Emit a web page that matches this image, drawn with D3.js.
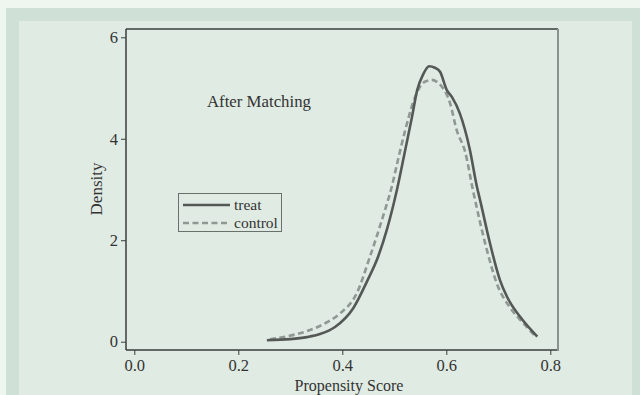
<!DOCTYPE html>
<html><head><meta charset="utf-8">
<script src="https://cdn.jsdelivr.net/npm/d3@7"></script>
<style>html,body{margin:0;padding:0;background:#eff6ef;}svg{display:block;}</style>
</head><body>
<svg id="c" width="640" height="395"></svg>
<script>
const treatX = [0.255,0.300,0.332,0.357,0.386,0.421,0.448,0.469,0.486,0.505,0.521,0.534,0.544,0.555,0.567,0.578,0.588,0.601,0.611,0.626,0.645,0.659,0.665,0.684,0.703,0.717,0.742,0.775];
const treatY = [0.03,0.05,0.09,0.15,0.29,0.66,1.20,1.68,2.22,2.99,3.78,4.43,4.96,5.26,5.43,5.40,5.32,4.96,4.82,4.50,3.80,3.05,2.79,1.94,1.22,0.88,0.49,0.10];
const controlX = [0.261,0.300,0.338,0.370,0.396,0.428,0.453,0.478,0.495,0.507,0.521,0.536,0.549,0.560,0.572,0.582,0.592,0.607,0.620,0.636,0.652,0.678,0.697,0.722,0.745,0.772];
const controlY = [0.05,0.12,0.23,0.38,0.56,0.96,1.67,2.46,3.05,3.58,4.17,4.71,5.02,5.13,5.16,5.12,5.02,4.71,4.17,3.75,2.95,1.81,1.15,0.68,0.40,0.10];
const xTicks = [0.0,0.2,0.4,0.6,0.8];
const yTicks = [0,2,4,6];
const seriesNames = ["treat","control"];
const title = "After Matching";
const xLabel = "Propensity Score";
const yLabel = "Density";

const svg = d3.select("#c");
const serif = "'Liberation Serif','Times New Roman',serif";
svg.append("rect").attr("x",6).attr("y",8).attr("width",634).attr("height",387).attr("fill","#cfe0d6");
svg.append("rect").attr("x",19).attr("y",21).attr("width",613).attr("height",374).attr("fill","#e0ebe3");

const L=126, T=29, R=558, B=350;
const x = d3.scaleLinear().domain([0,0.8]).range([134.3,550.3]);
const y = d3.scaleLinear().domain([0,6]).range([341.7,37.3]);

const xa = svg.append("g").attr("transform",`translate(0,${B})`)
  .call(d3.axisBottom(x).tickValues(xTicks).tickFormat(d3.format(".1f")).tickSize(5).tickSizeOuter(0));
const ya = svg.append("g").attr("transform",`translate(${L},0)`)
  .call(d3.axisLeft(y).tickValues(yTicks).tickFormat(d3.format("d")).tickSize(5).tickSizeOuter(0));
[xa,ya].forEach(g=>{
  g.select(".domain").remove();
  g.selectAll(".tick line").attr("stroke","#3a3f3c").attr("stroke-width",1);
  g.selectAll(".tick text").attr("font-family",serif).attr("font-size",16.5).attr("fill","#333");
});
xa.selectAll(".tick text").attr("y",9);
ya.selectAll(".tick text").attr("x",-8);

svg.append("line").attr("x1",L).attr("x2",R).attr("y1",T).attr("y2",T).attr("stroke","#3a3f3c").attr("stroke-width",1.5);
svg.append("line").attr("x1",L).attr("x2",L).attr("y1",T).attr("y2",B).attr("stroke","#3a3f3c").attr("stroke-width",1.5);
svg.append("line").attr("x1",L).attr("x2",R).attr("y1",B).attr("y2",B).attr("stroke","#3a3f3c").attr("stroke-width",1.5);
svg.append("line").attr("x1",R).attr("x2",R).attr("y1",T).attr("y2",B+1).attr("stroke","#89938e").attr("stroke-width",2);

const line = d3.line().x(d=>x(d[0])).y(d=>y(d[1])).curve(d3.curveMonotoneX);
const cData = controlX.map((v,i)=>[v,controlY[i]]);
const tData = treatX.map((v,i)=>[v,treatY[i]]);
svg.append("path").attr("d",line(cData)).attr("fill","none").attr("stroke","#8f9893").attr("stroke-width",2.6).attr("stroke-dasharray","6,3.5");
svg.append("path").attr("d",line(tData)).attr("fill","none").attr("stroke","#545956").attr("stroke-width",2.6);

svg.append("text").attr("x",207).attr("y",107).attr("font-family",serif).attr("font-size",16.8).attr("fill","#333").text(title);
svg.append("text").attr("x",349).attr("y",390.5).attr("text-anchor","middle").attr("font-family",serif).attr("font-size",16).attr("fill","#333").text(xLabel);
svg.append("text").attr("transform","translate(102,189) rotate(-90)").attr("text-anchor","middle").attr("font-family",serif).attr("font-size",17).attr("fill","#333").text(yLabel);

const lg = svg.append("g");
lg.append("rect").attr("x",178.5).attr("y",193.5).attr("width",103).attr("height",38).attr("fill","none").attr("stroke","#6a706c").attr("stroke-width",1);
const styles = [{c:"#545956",d:null},{c:"#8f9893",d:"6,3.5"}];
seriesNames.forEach((n,i)=>{
  const yy = 205 + i*18;
  lg.append("line").attr("x1",183).attr("x2",230).attr("y1",yy).attr("y2",yy).attr("stroke",styles[i].c).attr("stroke-width",2.6).attr("stroke-dasharray",styles[i].d);
  lg.append("text").attr("x",234).attr("y",yy+5).attr("font-family",serif).attr("font-size",15.5).attr("fill","#333").text(n);
});
</script>
</body></html>
